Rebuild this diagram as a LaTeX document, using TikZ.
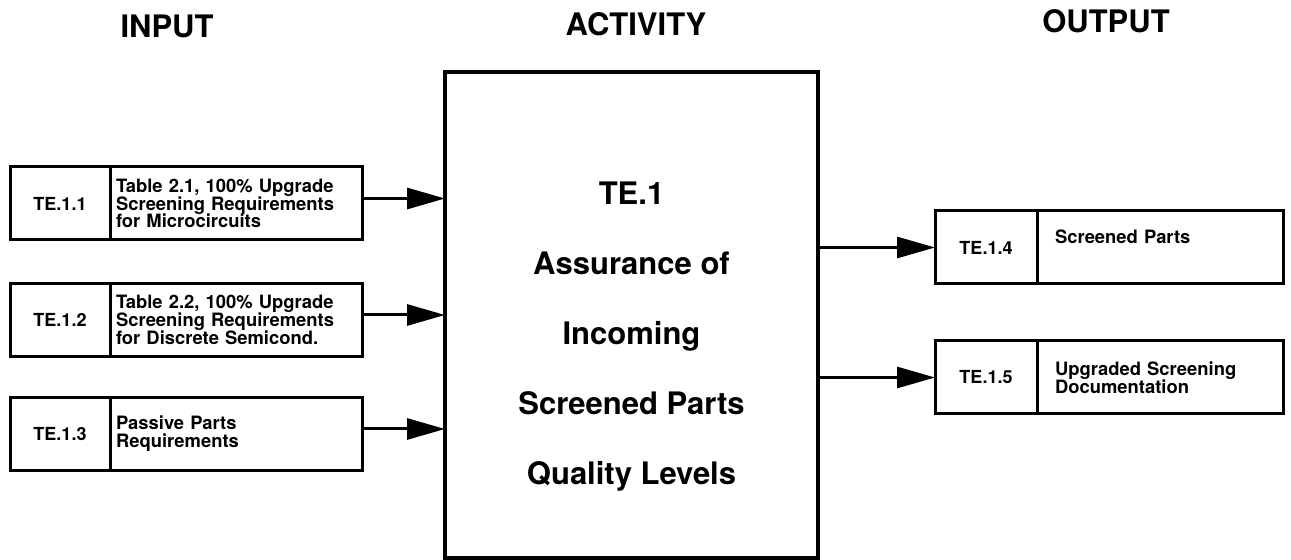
\documentclass[tikz,border=0pt]{standalone}
\usepackage{fontspec}
\setmainfont{TeX Gyre Heros}
\usetikzlibrary{positioning,arrows.meta}

\begin{document}
\begin{tikzpicture}[x=0.5pt, y=-0.5pt, ->, >={Triangle[length=19pt,width=10.5pt]}, line width=1.5pt,
    head/.style={-, font=\bfseries\fontsize{15.5}{18}\selectfont},
    idbox/.style={-, draw, outer sep=0pt, inner sep=0pt, minimum width=50pt, minimum height=36.5pt, font=\bfseries\fontsize{9}{9}\selectfont},
    txtbox/.style={-, draw, outer sep=0pt, inner xsep=3pt, inner ysep=0pt, minimum height=36.5pt, text width=120pt, align=left, font=\bfseries\fontsize{9.2}{8.9}\selectfont},
    outbox/.style={txtbox, inner xsep=9pt, text width=105pt},
    actbox/.style={-, draw, line width=2pt, outer sep=0pt, minimum width=186.5pt, minimum height=243pt},
    acttext/.style={-, align=center, font=\bfseries\fontsize{15.5}{35}\selectfont}]
    \useasboundingbox (0,0) rectangle (1291,560);

    % headings
    \node[head] (hin)  at (167,26)  {INPUT};
    \node[head] (hact) at (636,24)  {ACTIVITY};
    \node[head] (hout) at (1106,21) {OUTPUT};

    % activity
    \node[actbox] (act) at (631.5,315) {};
    \node[acttext] (acttxt) at ([yshift=-11pt]act.center) {TE.1\\Assurance of\\Incoming\\Screened Parts\\Quality Levels};

    % inputs
    \node[idbox] (i11) at (60,203.5) {TE.1.1};
    \node[txtbox] (t11) [right=0pt of i11] {Table 2.1, 100\% Upgrade\\Screening Requirements\\for Microcircuits};
    \node[idbox] (i12) at (60,320) {TE.1.2};
    \node[txtbox] (t12) [right=0pt of i12] {Table 2.2, 100\% Upgrade\\Screening Requirements\\for Discrete Semicond.};
    \node[idbox] (i13) at (60,434) {TE.1.3};
    \node[txtbox] (t13) [right=0pt of i13] {Passive Parts\\Requirements};

    % outputs
    \node[idbox, minimum width=51pt] (o14) at (986,247.5) {TE.1.4};
    \node[outbox] (s14) [right=0pt of o14] {Screened Parts\\[2pt]\mbox{}};
    \node[idbox, minimum width=51pt] (o15) at (986,377.5) {TE.1.5};
    \node[outbox] (s15) [right=0pt of o15] {Upgraded Screening\\Documentation};

    \coordinate (a11) at ([yshift=2.5pt]t11.east);
    \coordinate (a12) at ([yshift=2.5pt]t12.east);
    \coordinate (a13) at ([yshift=2.5pt]t13.east);

    \path
    (a11) edge (act.west |- a11)
    (a12) edge (act.west |- a12)
    (a13) edge (act.west |- a13)
    (act.east |- o14.west) edge (o14.west)
    (act.east |- o15.west) edge (o15.west);
\end{tikzpicture}
\end{document}
